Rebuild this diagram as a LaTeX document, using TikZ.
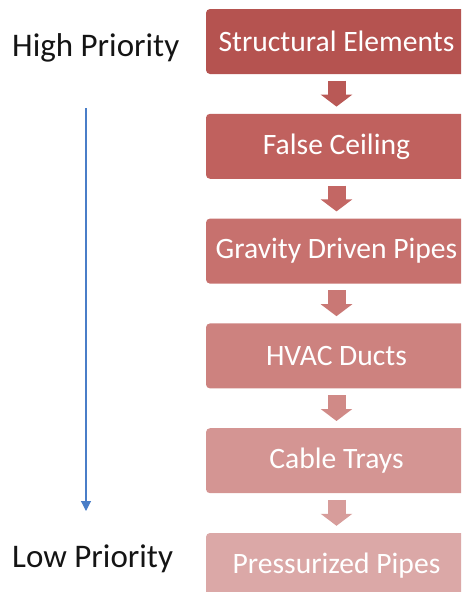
\documentclass[tikz,border=0pt]{standalone}
\usepackage{fontspec}
\setmainfont{Carlito}
\usetikzlibrary{arrows.meta,calc}

\definecolor{tone1}{RGB}{181,83,80}
\definecolor{tone2}{RGB}{192,97,94}
\definecolor{tone3}{RGB}{199,113,110}
\definecolor{tone4}{RGB}{205,130,127}
\definecolor{tone5}{RGB}{212,149,147}
\definecolor{tone6}{RGB}{219,168,167}
\definecolor{prioblue}{RGB}{74,126,200}
\definecolor{labelink}{RGB}{20,20,20}

\tikzset{
  stage/.style={fill=#1, draw=none, rounded corners=4pt, minimum width=261pt,
    minimum height=65pt, inner sep=0pt, text=white,
    font=\fontsize{29.6}{34}\selectfont},
  flow/.style={draw=#1, line width=18pt,
    -{Triangle[width=31pt,length=12pt]}, shorten <=6.5pt, shorten >=7pt},
  prio/.style={anchor=base west, inner sep=0pt, text=labelink,
    font=\fontsize{33}{38}\selectfont},
}

\begin{document}
\begin{tikzpicture}[x=1pt,y=-1pt]
  \useasboundingbox (0,0) rectangle (461,592);
  \clip (0,0) rectangle (461,592);

  % priority chain
  \node[stage=tone1] (s1) at (336.5,41.5)  {Structural Elements};
  \node[stage=tone2] (s2) at (336.5,146.3) {False Ceiling};
  \node[stage=tone3] (s3) at (336.5,251.1) {Gravity Driven Pipes};
  \node[stage=tone4] (s4) at (336.5,355.9) {HVAC Ducts};
  \node[stage=tone5] (s5) at (336.5,460.7) {Cable Trays};
  \node[stage=tone6] (s6) at (336.5,565.5) {Pressurized Pipes};

  % block arrows between stages
  \draw[flow=tone1!60!tone2] (s1.south) -- (s2.north);
  \draw[flow=tone2!60!tone3] (s2.south) -- (s3.north);
  \draw[flow=tone3!60!tone4] (s3.south) -- (s4.north);
  \draw[flow=tone4!60!tone5] (s4.south) -- (s5.north);
  \draw[flow=tone5!60!tone6] (s5.south) -- (s6.north);

  % priority scale on the left
  \node[prio] (hi) at (12,56)  {High Priority};
  \node[prio] (lo) at (12,567) {Low Priority};
  \coordinate (scaletop) at (86,108);
  \coordinate (scalebot) at (86,511);
  \draw[prioblue, line width=1.1pt, -{Triangle[width=10pt,length=10pt]}]
    (scaletop) -- (scalebot);
\end{tikzpicture}
\end{document}
